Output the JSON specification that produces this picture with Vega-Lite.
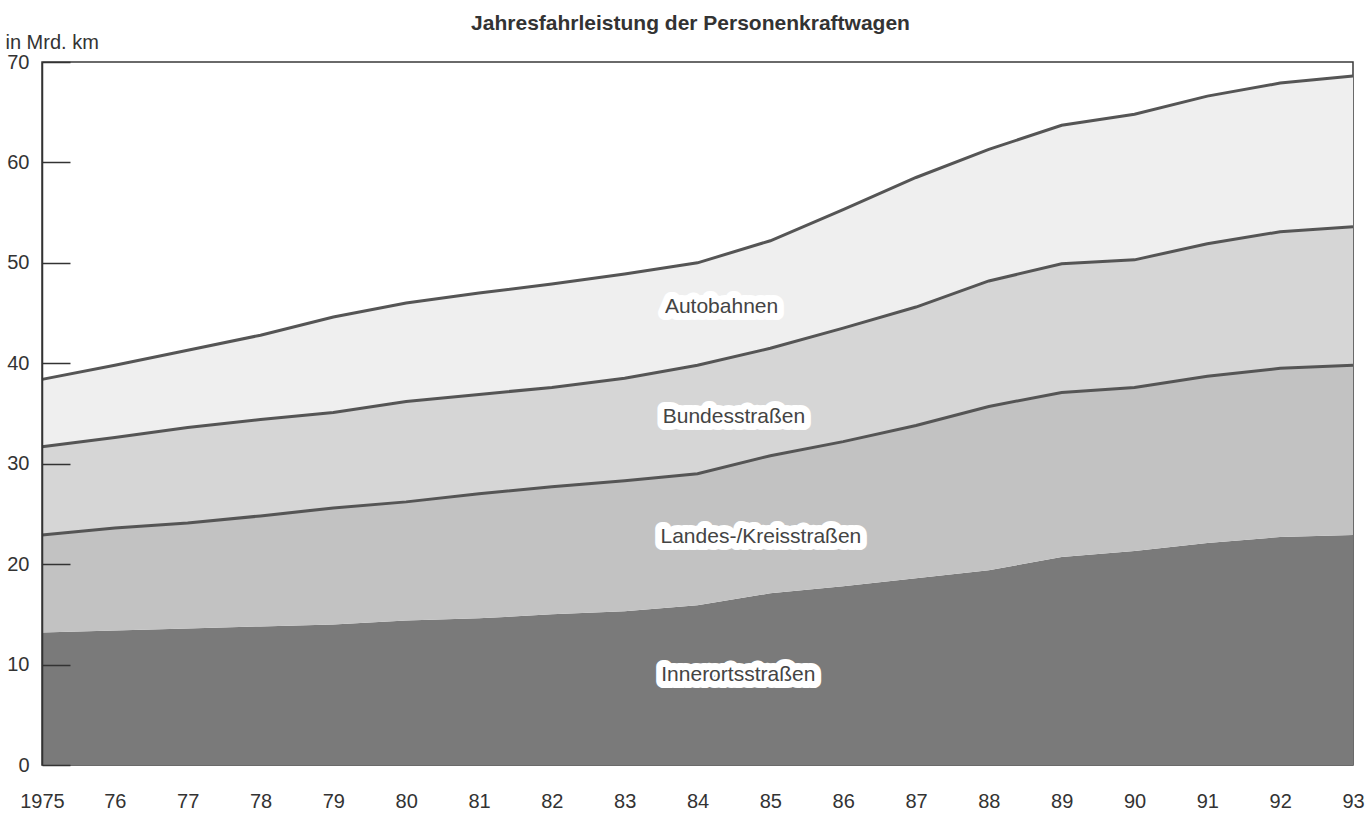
{
  "$schema": "https://vega.github.io/schema/vega-lite/v6.json",
  "width": 1311,
  "height": 703,
  "autosize": {"type": "none"},
  "padding": {"left": 42, "top": 62, "right": 17, "bottom": 52},
  "background": "white",
  "config": {
    "view": {"stroke": "#3a3a3a", "strokeWidth": 1.5},
    "font": "Liberation Sans"
  },
  "title": {
    "text": "Jahresfahrleistung der Personenkraftwagen",
    "font": "Liberation Sans",
    "fontSize": 21,
    "fontWeight": "bold",
    "color": "#333333",
    "anchor": "middle",
    "frame": "group",
    "offset": -2,
    "dx": -7
  },
  "datasets": {
    "fahrleistung": [
      {"jahr": 1975, "typ": "Innerortsstraßen", "mrd_km": 13.2},
      {"jahr": 1975, "typ": "Landes-/Kreisstraßen", "mrd_km": 9.7},
      {"jahr": 1975, "typ": "Bundesstraßen", "mrd_km": 8.8},
      {"jahr": 1975, "typ": "Autobahnen", "mrd_km": 6.7},
      {"jahr": 1976, "typ": "Innerortsstraßen", "mrd_km": 13.4},
      {"jahr": 1976, "typ": "Landes-/Kreisstraßen", "mrd_km": 10.2},
      {"jahr": 1976, "typ": "Bundesstraßen", "mrd_km": 9.0},
      {"jahr": 1976, "typ": "Autobahnen", "mrd_km": 7.2},
      {"jahr": 1977, "typ": "Innerortsstraßen", "mrd_km": 13.6},
      {"jahr": 1977, "typ": "Landes-/Kreisstraßen", "mrd_km": 10.5},
      {"jahr": 1977, "typ": "Bundesstraßen", "mrd_km": 9.5},
      {"jahr": 1977, "typ": "Autobahnen", "mrd_km": 7.7},
      {"jahr": 1978, "typ": "Innerortsstraßen", "mrd_km": 13.8},
      {"jahr": 1978, "typ": "Landes-/Kreisstraßen", "mrd_km": 11.0},
      {"jahr": 1978, "typ": "Bundesstraßen", "mrd_km": 9.6},
      {"jahr": 1978, "typ": "Autobahnen", "mrd_km": 8.4},
      {"jahr": 1979, "typ": "Innerortsstraßen", "mrd_km": 14.0},
      {"jahr": 1979, "typ": "Landes-/Kreisstraßen", "mrd_km": 11.6},
      {"jahr": 1979, "typ": "Bundesstraßen", "mrd_km": 9.5},
      {"jahr": 1979, "typ": "Autobahnen", "mrd_km": 9.5},
      {"jahr": 1980, "typ": "Innerortsstraßen", "mrd_km": 14.4},
      {"jahr": 1980, "typ": "Landes-/Kreisstraßen", "mrd_km": 11.8},
      {"jahr": 1980, "typ": "Bundesstraßen", "mrd_km": 10.0},
      {"jahr": 1980, "typ": "Autobahnen", "mrd_km": 9.8},
      {"jahr": 1981, "typ": "Innerortsstraßen", "mrd_km": 14.6},
      {"jahr": 1981, "typ": "Landes-/Kreisstraßen", "mrd_km": 12.4},
      {"jahr": 1981, "typ": "Bundesstraßen", "mrd_km": 9.9},
      {"jahr": 1981, "typ": "Autobahnen", "mrd_km": 10.1},
      {"jahr": 1982, "typ": "Innerortsstraßen", "mrd_km": 15.0},
      {"jahr": 1982, "typ": "Landes-/Kreisstraßen", "mrd_km": 12.7},
      {"jahr": 1982, "typ": "Bundesstraßen", "mrd_km": 9.9},
      {"jahr": 1982, "typ": "Autobahnen", "mrd_km": 10.3},
      {"jahr": 1983, "typ": "Innerortsstraßen", "mrd_km": 15.3},
      {"jahr": 1983, "typ": "Landes-/Kreisstraßen", "mrd_km": 13.0},
      {"jahr": 1983, "typ": "Bundesstraßen", "mrd_km": 10.2},
      {"jahr": 1983, "typ": "Autobahnen", "mrd_km": 10.4},
      {"jahr": 1984, "typ": "Innerortsstraßen", "mrd_km": 15.9},
      {"jahr": 1984, "typ": "Landes-/Kreisstraßen", "mrd_km": 13.1},
      {"jahr": 1984, "typ": "Bundesstraßen", "mrd_km": 10.8},
      {"jahr": 1984, "typ": "Autobahnen", "mrd_km": 10.2},
      {"jahr": 1985, "typ": "Innerortsstraßen", "mrd_km": 17.1},
      {"jahr": 1985, "typ": "Landes-/Kreisstraßen", "mrd_km": 13.7},
      {"jahr": 1985, "typ": "Bundesstraßen", "mrd_km": 10.7},
      {"jahr": 1985, "typ": "Autobahnen", "mrd_km": 10.7},
      {"jahr": 1986, "typ": "Innerortsstraßen", "mrd_km": 17.8},
      {"jahr": 1986, "typ": "Landes-/Kreisstraßen", "mrd_km": 14.4},
      {"jahr": 1986, "typ": "Bundesstraßen", "mrd_km": 11.3},
      {"jahr": 1986, "typ": "Autobahnen", "mrd_km": 11.8},
      {"jahr": 1987, "typ": "Innerortsstraßen", "mrd_km": 18.6},
      {"jahr": 1987, "typ": "Landes-/Kreisstraßen", "mrd_km": 15.2},
      {"jahr": 1987, "typ": "Bundesstraßen", "mrd_km": 11.8},
      {"jahr": 1987, "typ": "Autobahnen", "mrd_km": 12.9},
      {"jahr": 1988, "typ": "Innerortsstraßen", "mrd_km": 19.4},
      {"jahr": 1988, "typ": "Landes-/Kreisstraßen", "mrd_km": 16.3},
      {"jahr": 1988, "typ": "Bundesstraßen", "mrd_km": 12.5},
      {"jahr": 1988, "typ": "Autobahnen", "mrd_km": 13.1},
      {"jahr": 1989, "typ": "Innerortsstraßen", "mrd_km": 20.7},
      {"jahr": 1989, "typ": "Landes-/Kreisstraßen", "mrd_km": 16.4},
      {"jahr": 1989, "typ": "Bundesstraßen", "mrd_km": 12.8},
      {"jahr": 1989, "typ": "Autobahnen", "mrd_km": 13.8},
      {"jahr": 1990, "typ": "Innerortsstraßen", "mrd_km": 21.3},
      {"jahr": 1990, "typ": "Landes-/Kreisstraßen", "mrd_km": 16.3},
      {"jahr": 1990, "typ": "Bundesstraßen", "mrd_km": 12.7},
      {"jahr": 1990, "typ": "Autobahnen", "mrd_km": 14.5},
      {"jahr": 1991, "typ": "Innerortsstraßen", "mrd_km": 22.1},
      {"jahr": 1991, "typ": "Landes-/Kreisstraßen", "mrd_km": 16.6},
      {"jahr": 1991, "typ": "Bundesstraßen", "mrd_km": 13.2},
      {"jahr": 1991, "typ": "Autobahnen", "mrd_km": 14.7},
      {"jahr": 1992, "typ": "Innerortsstraßen", "mrd_km": 22.7},
      {"jahr": 1992, "typ": "Landes-/Kreisstraßen", "mrd_km": 16.8},
      {"jahr": 1992, "typ": "Bundesstraßen", "mrd_km": 13.6},
      {"jahr": 1992, "typ": "Autobahnen", "mrd_km": 14.8},
      {"jahr": 1993, "typ": "Innerortsstraßen", "mrd_km": 22.9},
      {"jahr": 1993, "typ": "Landes-/Kreisstraßen", "mrd_km": 16.9},
      {"jahr": 1993, "typ": "Bundesstraßen", "mrd_km": 13.8},
      {"jahr": 1993, "typ": "Autobahnen", "mrd_km": 15.0}
    ],
    "beschriftung": [
      {"label": "Autobahnen", "jahr": 1984.33, "wert": 45.6},
      {"label": "Bundesstraßen", "jahr": 1984.5, "wert": 34.7},
      {"label": "Landes-/Kreisstraßen", "jahr": 1984.87, "wert": 22.7},
      {"label": "Innerortsstraßen", "jahr": 1984.56, "wert": 9.0}
    ]
  },
  "layer": [
    {
      "data": {"name": "fahrleistung"},
      "transform": [
        {"calculate": "indexof(['Innerortsstraßen','Landes-/Kreisstraßen','Bundesstraßen','Autobahnen'], datum.typ)", "as": "rang"},
        {"stack": "mrd_km", "groupby": ["jahr"], "sort": [{"field": "rang", "order": "ascending"}], "as": ["y0", "y1"]}
      ],
      "layer": [
        {
          "mark": {"type": "area", "interpolate": "linear"},
          "encoding": {
            "x": {
              "field": "jahr", "type": "quantitative",
              "scale": {"domain": [1975, 1993], "nice": false, "zero": false},
              "axis": {
                "values": [1975, 1976, 1977, 1978, 1979, 1980, 1981, 1982, 1983, 1984, 1985, 1986, 1987, 1988, 1989, 1990, 1991, 1992, 1993],
                "labelExpr": "datum.value == 1975 ? '1975' : slice(toString(datum.value), 2)",
                "domain": false, "ticks": false, "grid": false,
                "labelPadding": 26, "labelFontSize": 20, "labelColor": "#333333",
                "labelFont": "Liberation Sans", "labelFlush": false, "labelOverlap": false,
                "title": null
              }
            },
            "y": {
              "field": "y1", "type": "quantitative",
              "scale": {"domain": [0, 70], "nice": false},
              "axis": {
                "values": [0, 10, 20, 30, 40, 50, 60, 70],
                "title": "in Mrd. km",
                "titleAngle": 0, "titleAlign": "left", "titleBaseline": "alphabetic",
                "titleX": -37, "titleY": -14,
                "titleFont": "Liberation Sans", "titleFontSize": 20, "titleFontWeight": "normal", "titleColor": "#333333",
                "labelFontSize": 20, "labelColor": "#333333", "labelFont": "Liberation Sans",
                "labelPadding": 41,
                "tickSize": -28, "tickColor": "#333333", "tickWidth": 1.5,
                "domainColor": "#333333", "domainWidth": 1.5,
                "grid": false, "zindex": 1
              }
            },
            "y2": {"field": "y0"},
            "color": {
              "field": "typ", "type": "nominal",
              "scale": {
                "domain": ["Innerortsstraßen", "Landes-/Kreisstraßen", "Bundesstraßen", "Autobahnen"],
                "range": ["#7a7a7a", "#c2c2c2", "#d6d6d6", "#efefef"]
              },
              "legend": null
            }
          }
        },
        {
          "transform": [{"filter": "datum.typ != 'Innerortsstraßen'"}],
          "mark": {"type": "line", "interpolate": "linear", "color": "#555555", "strokeWidth": 3},
          "encoding": {
            "x": {"field": "jahr", "type": "quantitative"},
            "y": {"field": "y1", "type": "quantitative"},
            "detail": {"field": "typ", "type": "nominal"}
          }
        }
      ]
    },
    {
      "data": {"name": "beschriftung"},
      "mark": {"type": "text", "font": "Liberation Sans", "fontSize": 21, "stroke": "white", "strokeWidth": 14, "strokeJoin": "round", "fill": "white", "align": "center", "baseline": "middle"},
      "encoding": {
        "x": {"field": "jahr", "type": "quantitative"},
        "y": {"field": "wert", "type": "quantitative"},
        "text": {"field": "label"}
      }
    },
    {
      "data": {"name": "beschriftung"},
      "mark": {"type": "text", "font": "Liberation Sans", "fontSize": 21, "fill": "#444444", "align": "center", "baseline": "middle"},
      "encoding": {
        "x": {"field": "jahr", "type": "quantitative"},
        "y": {"field": "wert", "type": "quantitative"},
        "text": {"field": "label"}
      }
    }
  ]
}
